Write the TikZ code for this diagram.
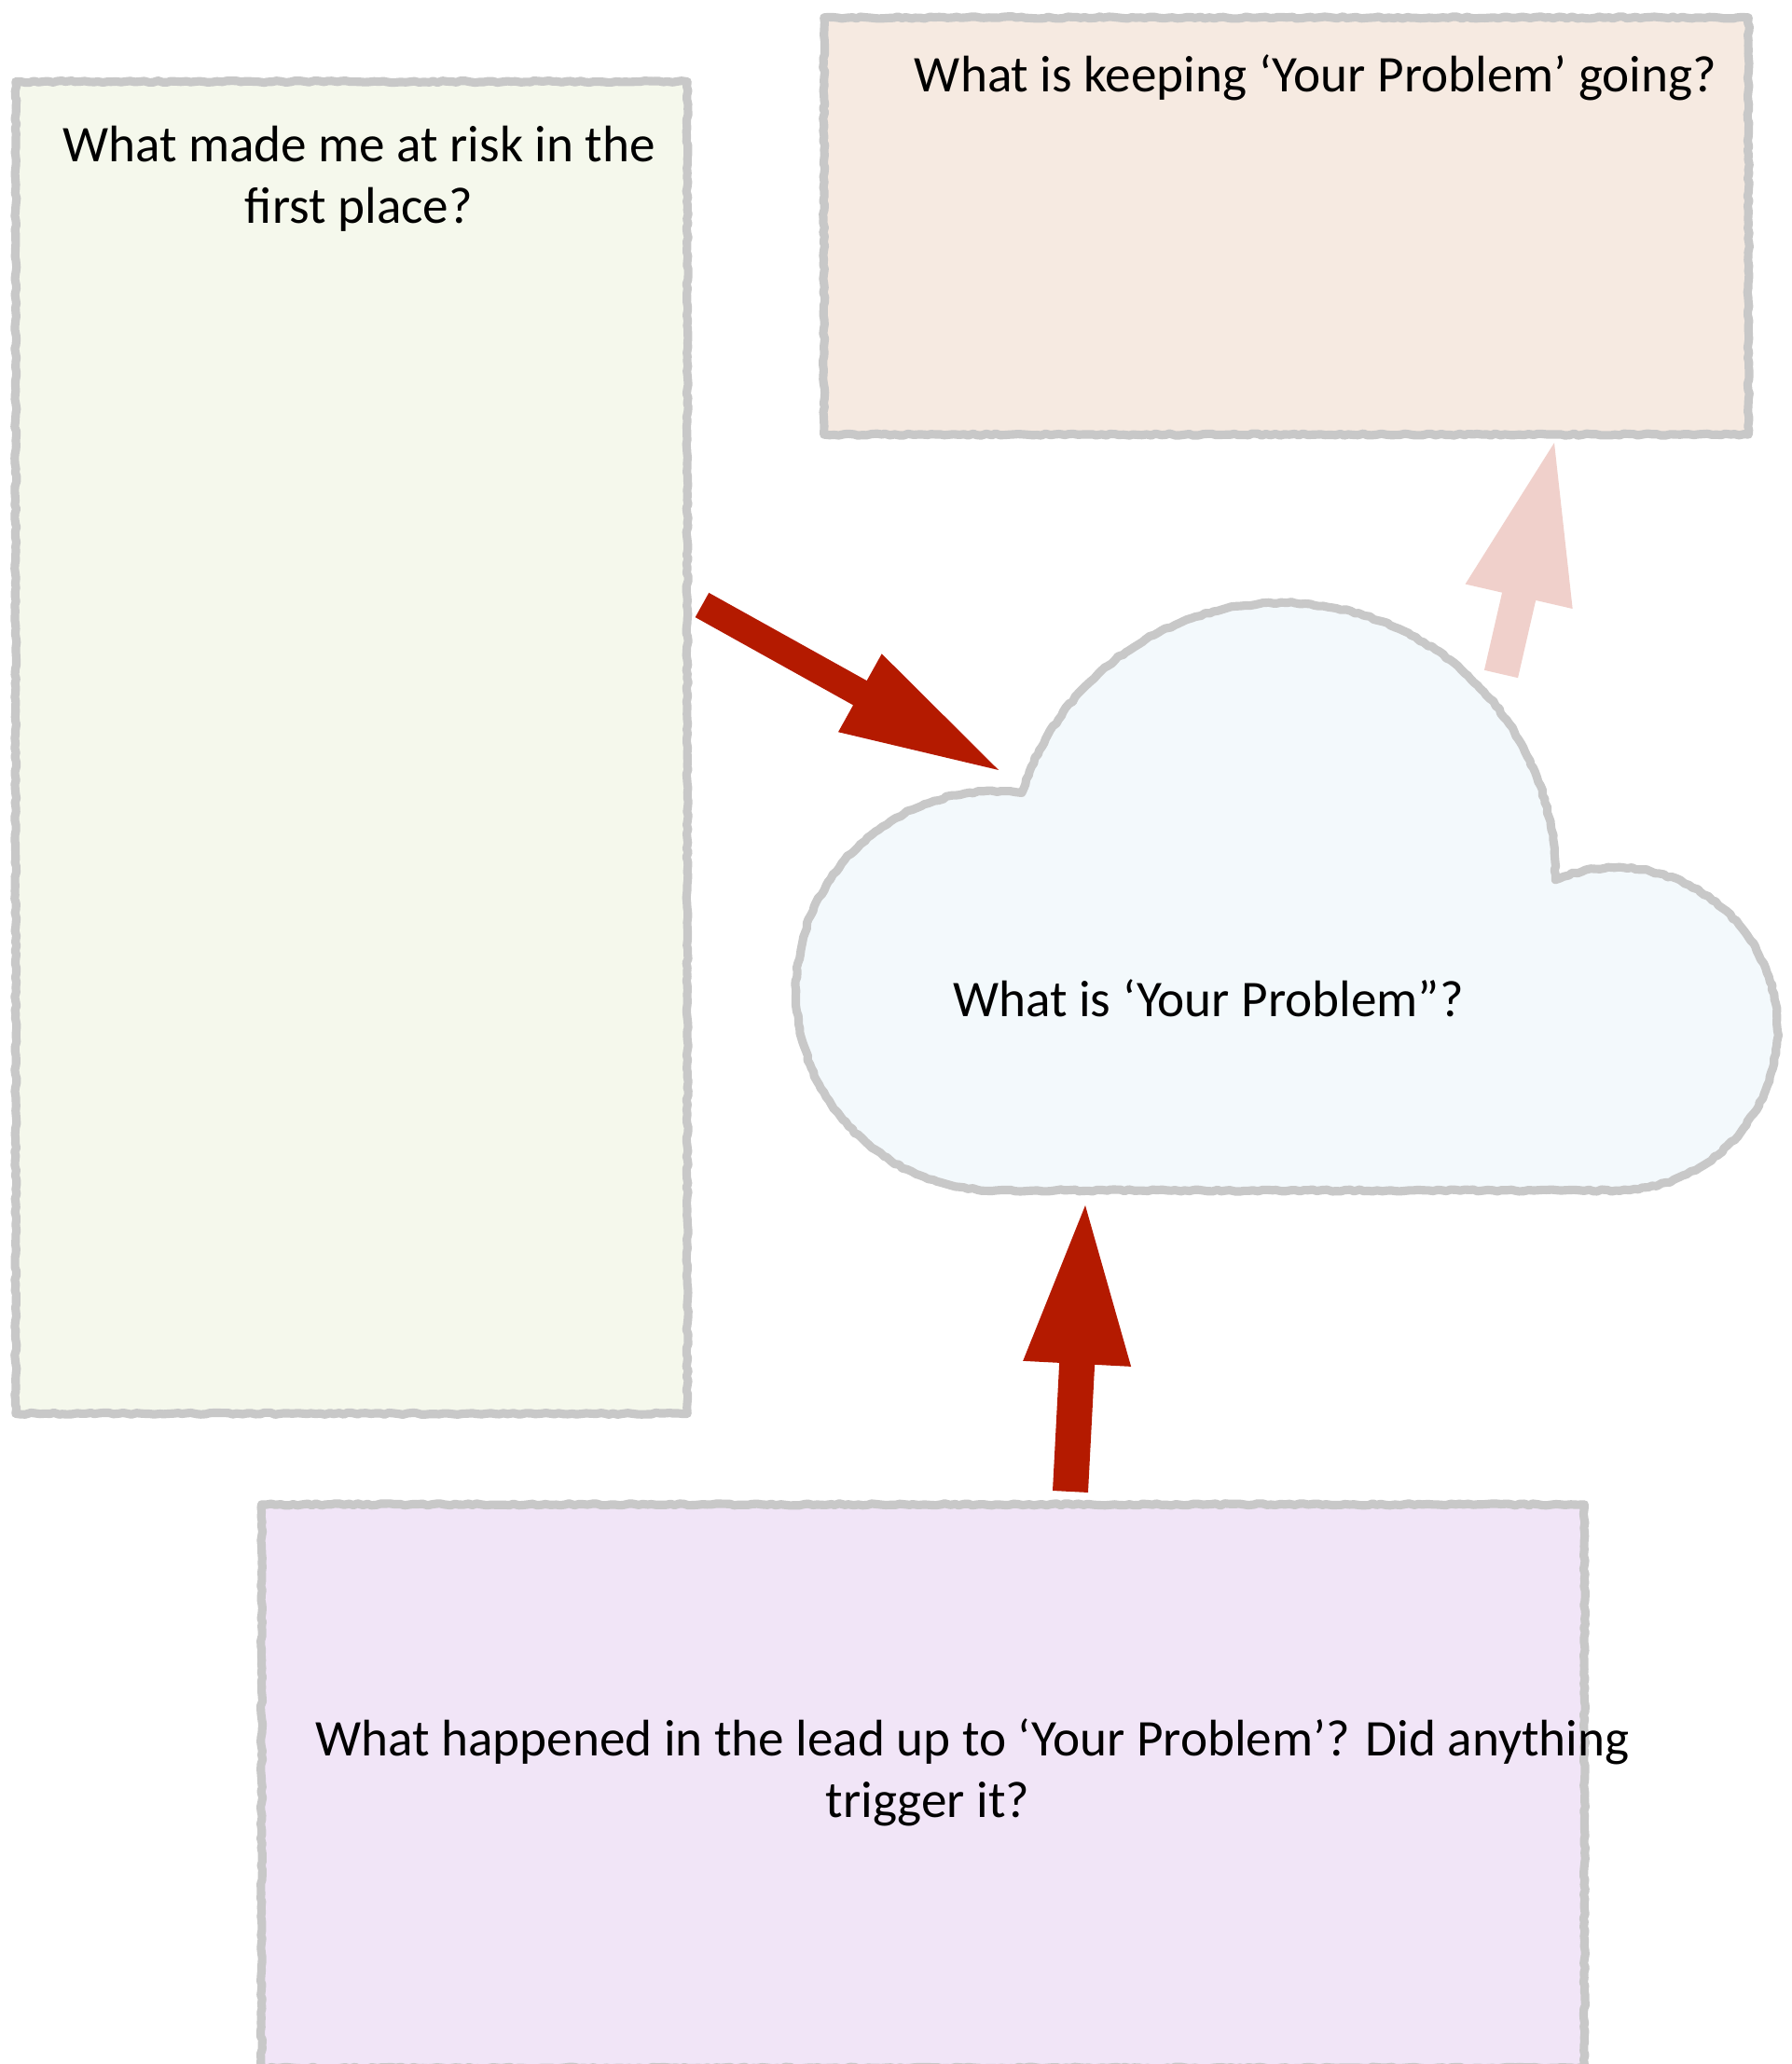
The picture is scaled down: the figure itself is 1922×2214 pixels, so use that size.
\documentclass[tikz,border=0pt]{standalone}
\usepackage{fontspec}
\setmainfont{Carlito}
\usetikzlibrary{calc,decorations.pathmorphing}

\definecolor{riskfill}{HTML}{F5F8EC}
\definecolor{keepfill}{HTML}{F6EAE1}
\definecolor{cloudfill}{HTML}{F3F9FC}
\definecolor{leadfill}{HTML}{F1E5F7}
\definecolor{pencilgray}{HTML}{C8C8C8}
\definecolor{arrowred}{HTML}{B41A00}
\definecolor{arrowpink}{HTML}{F0D0CB}

% block arrow: colour, tail, tip, shaft half width, head half width, head length
\newcommand\blockarrow[6]{%
  \coordinate (ba-base) at ($(#3)!#6!(#2)$);
  \fill[#1] ($(#2)!#4!90:(#3)$) -- ($(ba-base)!#4!90:(#3)$)
    -- ($(ba-base)!#5!90:(#3)$) -- (#3)
    -- ($(ba-base)!#5!-90:(#3)$) -- ($(ba-base)!#4!-90:(#3)$)
    -- ($(#2)!#4!-90:(#3)$) -- cycle;
}

\begin{document}
\begin{tikzpicture}[x=0.01cm, y=0.01cm,
  pencil/.style={draw=pencilgray, line width=2.6pt, line join=round,
    decorate, decoration={random steps, segment length=1.4pt, amplitude=0.3pt}},
  boxnode/.style={draw=none, inner sep=0pt, outer sep=0pt},
  qtext/.style={align=center, inner sep=0pt, anchor=base,
    font=\fontsize{15.7}{18.8}\selectfont}]
\pgfmathsetseed{4711}
\useasboundingbox (0,0) rectangle (1922,2214);
\fill[white] (0,0) rectangle (1922,2214);

% question boxes
\node[boxnode, fill=riskfill, minimum width=7.2cm, minimum height=14.28cm] (risk) at (377,1412) {};
\draw[pencil] (risk.south west) rectangle (risk.north east);
\node[boxnode, fill=keepfill, minimum width=9.91cm, minimum height=4.47cm] (keep) at (1379.5,1971.5) {};
\draw[pencil] (keep.south west) rectangle (keep.north east);
\node[boxnode, fill=leadfill, minimum width=14.18cm, minimum height=6.04cm] (lead) at (990,298) {};
\draw[pencil] (lead.south west) rectangle (lead.north east);

% the problem cloud
\path[fill=cloudfill, pencil] (1068,937)
  arc[start angle=270, end angle=82.51, radius=2.14cm]
  arc[start angle=162.28, end angle=-0.72, radius=2.93cm]
  arc[start angle=112.08, end angle=-90, radius=1.73cm] -- cycle;
\node[inner sep=0pt] (problem) at (1380,1105) {};

% texts (base anchor sits on the last line)
\node[qtext] (risktext) at (385,1974) {What made me at risk in the\\first place?};
\node[qtext] (keeptext) at (1411,2115) {What is keeping ‘Your Problem’ going?};
\node[qtext] (problemtext) at (1296,1123) {What is ‘Your Problem”?};
\node[qtext] (leadtext) at (1043,264) {What happened in the lead up to ‘Your Problem’? Did anything\\trigger it?\kern27.3pt};

% arrows between the boxes and the cloud
\coordinate (riskout) at (753,1565);
\coordinate (problemin1) at (1071,1388);
\coordinate (leadout) at (1148,614);
\coordinate (problemin2) at (1164,921);
\coordinate (problemout) at (1610,1491);
\coordinate (keepin) at (1667,1739);
\blockarrow{arrowred}{riskout}{problemin1}{0.15cm}{0.48cm}{1.70cm}
\blockarrow{arrowred}{leadout}{problemin2}{0.19cm}{0.58cm}{1.70cm}
\blockarrow{arrowpink}{problemout}{keepin}{0.185cm}{0.59cm}{1.69cm}
\end{tikzpicture}
\end{document}
